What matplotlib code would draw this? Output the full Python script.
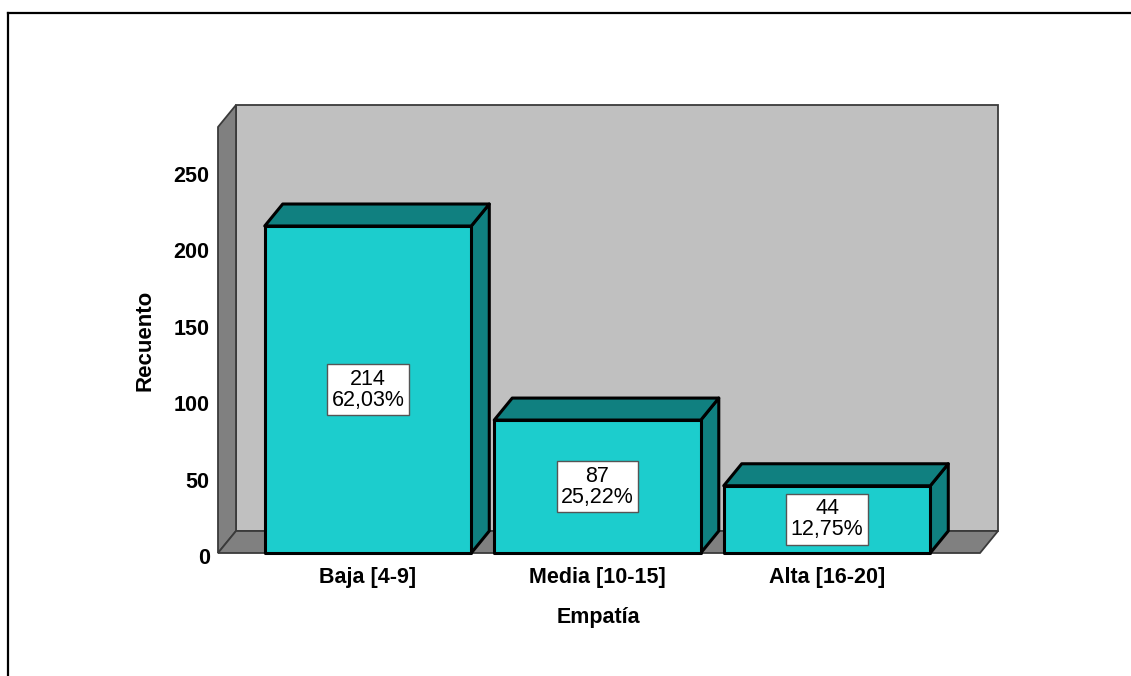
import matplotlib
matplotlib.use("Agg")
import matplotlib.pyplot as plt
from matplotlib.patches import Polygon
from matplotlib.lines import Line2D
from matplotlib.transforms import ScaledTranslation

plt.rcParams['font.family'] = ['Liberation Sans', 'DejaVu Sans']

categories = ["Baja [4-9]", "Media [10-15]", "Alta [16-20]"]
counts = [214, 87, 44]
percents = ["62,03%", "25,22%", "12,75%"]
yticks = [0, 50, 100, 150, 200, 250]

W, H = 1131, 676
fig = plt.figure(figsize=(W / 100, H / 100), dpi=100)
fig.patch.set_facecolor('white')

# axes area in pixels
ax_l, ax_r, ax_b, ax_t = 218, 998, 553, 105
ax = fig.add_axes([ax_l / W, (H - ax_b) / H, (ax_r - ax_l) / W, (ax_b - ax_t) / H])
ax.set_facecolor('none')

xmin, xmax = -0.6536, 2.745
ymax = 293.2
ax.set_xlim(xmin, xmax)
ax.set_ylim(0, ymax)
for s in ax.spines.values():
    s.set_visible(False)

dx, dy = 0.0784, 14.4
floor_r = xmax - dx
top = ymax

wall_ec = '#3a3a3a'
# back wall
ax.add_patch(Polygon([(xmin + dx, dy), (xmax, dy), (xmax, top), (xmin + dx, top)],
                     closed=True, fc='#C0C0C0', ec=wall_ec, lw=1.3, clip_on=False, zorder=1))
# left wall
ax.add_patch(Polygon([(xmin, 0), (xmin + dx, dy), (xmin + dx, top), (xmin, top - dy)],
                     closed=True, fc='#808080', ec=wall_ec, lw=1.3, clip_on=False, zorder=1))
# floor
ax.add_patch(Polygon([(xmin, 0), (floor_r, 0), (floor_r + dx, dy), (xmin + dx, dy)],
                     closed=True, fc='#808080', ec=wall_ec, lw=1.3, clip_on=False, zorder=1))

bw = 0.9
front_c = '#1CCDCD'
dark_c = '#108080'
for i, v in enumerate(counts):
    x0, x1 = i - bw / 2, i + bw / 2
    # side
    ax.add_patch(Polygon([(x1, 0), (x1 + dx, dy), (x1 + dx, v + dy), (x1, v)],
                         closed=True, fc=dark_c, ec='black', lw=2.2, joinstyle='round',
                         clip_on=False, zorder=3))
    # top
    ax.add_patch(Polygon([(x0, v), (x1, v), (x1 + dx, v + dy), (x0 + dx, v + dy)],
                         closed=True, fc=dark_c, ec='black', lw=2.2, joinstyle='round',
                         clip_on=False, zorder=3))
    # front
    ax.add_patch(Polygon([(x0, 0), (x1, 0), (x1, v), (x0, v)],
                         closed=True, fc=front_c, ec='black', lw=2.2, joinstyle='round',
                         clip_on=False, zorder=4))
    ax.text(i, v / 2, f"{v}\n{percents[i]}", ha='center', va='center', fontsize=15.5,
            linespacing=1.0, zorder=5,
            bbox=dict(boxstyle='square,pad=0.2', fc='white', ec='#555555', lw=1.0))

ax.set_yticks(yticks)
ax.set_yticklabels([str(t) for t in yticks], fontsize=15.5, fontweight='bold')
ax.set_xticks(range(len(categories)))
ax.set_xticklabels(categories, fontsize=15.5, fontweight='bold')
ax.tick_params(axis='y', length=0, pad=6)
ax.tick_params(axis='x', length=0, pad=10)
for lab in ax.get_yticklabels():
    lab.set_transform(lab.get_transform() + ScaledTranslation(0, -3 / 100, fig.dpi_scale_trans))

ax.text((145 - ax_l) / (ax_r - ax_l), (ax_b - 340) / (ax_b - ax_t), "Recuento",
        transform=ax.transAxes, rotation=90, ha='center', va='center',
        fontsize=16, fontweight='bold')
ax.text((598 - ax_l) / (ax_r - ax_l), (ax_b - 618) / (ax_b - ax_t), "Empatía",
        transform=ax.transAxes, ha='center', va='center',
        fontsize=15.5, fontweight='bold')

# outer frame (top and left edges visible)
fig.add_artist(Line2D([8 / W, 1.0], [(H - 12.5) / H] * 2, color='black', lw=1.6,
                      transform=fig.transFigure))
fig.add_artist(Line2D([8 / W] * 2, [0, (H - 12.5) / H], color='black', lw=1.6,
                      transform=fig.transFigure))

fig.savefig("out.png", dpi=100)
